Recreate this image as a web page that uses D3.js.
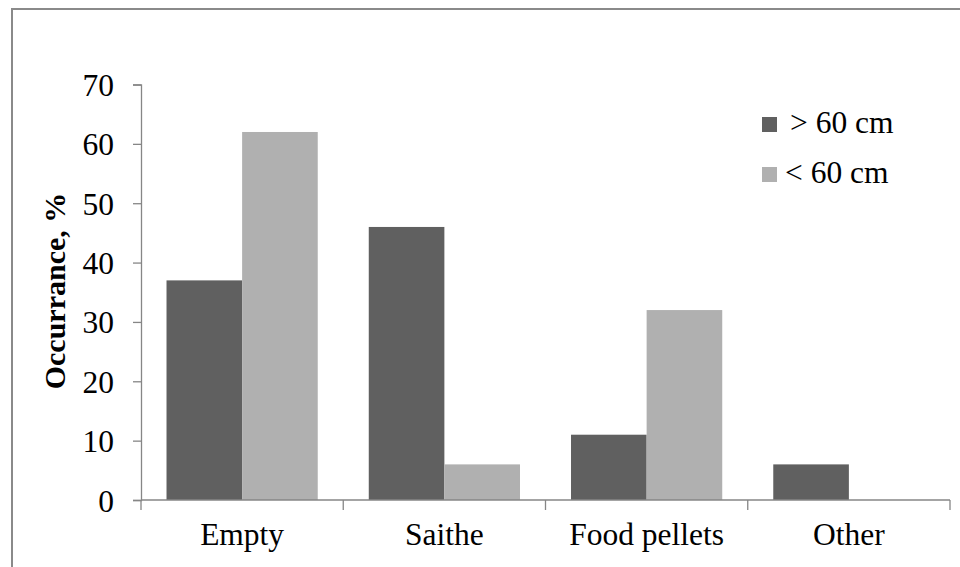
<!DOCTYPE html>
<html><head><meta charset="utf-8">
<script src="https://cdn.jsdelivr.net/npm/d3@7"></script>
<style>
html,body{margin:0;padding:0;background:#fff;}
svg{display:block;}
text{font-family:"Liberation Serif","Times New Roman",serif;fill:#000;}
</style></head>
<body>
<svg id="chart" width="960" height="567"></svg>
<script>
const categories = ["Empty", "Saithe", "Food pellets", "Other"];
const seriesNames = ["> 60 cm", "< 60 cm"];
const over60 = [37, 46, 11, 6];
const under60 = [62, 6, 32, 0];
const yTicks = [0, 10, 20, 30, 40, 50, 60, 70];
const colors = ["#606060", "#b0b0b0"];

const svg = d3.select("#chart");
const plotLeft = 141, plotRight = 950, plotTop = 84.5, plotBottom = 500;
const fs = 31.5;

// outer chart border (extends beyond the visible frame right/bottom)
svg.append("rect").attr("x", 12).attr("y", 9).attr("width", 1000).attr("height", 600)
  .attr("fill", "none").attr("stroke", "#8a8a8a").attr("stroke-width", 2);

const x = d3.scaleBand().domain(categories).range([plotLeft, plotRight]).paddingInner(0).paddingOuter(0);
const xs = d3.scaleBand().domain(seriesNames).range([0, x.bandwidth()]).paddingInner(0).paddingOuter(0.3375);
const y = d3.scaleLinear().domain([0, 70]).range([plotBottom, plotTop]);

const data = categories.map((c, i) => ({cat: c, vals: [over60[i], under60[i]]}));

// bars
const g = svg.append("g");
data.forEach(d => {
  seriesNames.forEach((s, j) => {
    const v = d.vals[j];
    if (v <= 0) return;
    g.append("rect")
      .attr("x", x(d.cat) + xs(s))
      .attr("y", y(v))
      .attr("width", xs.bandwidth())
      .attr("height", y(0) - y(v))
      .attr("fill", colors[j]);
  });
});

// y axis
const yAxis = d3.axisLeft(y).tickValues(yTicks).tickSize(8).tickPadding(19).tickFormat(d3.format("d"));
const ya = svg.append("g").attr("transform", `translate(${plotLeft},0)`).call(yAxis);
ya.select(".domain").attr("stroke", "#868686").attr("stroke-width", 1.3);
ya.selectAll(".tick line").attr("stroke", "#868686").attr("stroke-width", 1.3);
ya.selectAll(".tick text").attr("font-size", fs).attr("font-family", "Liberation Serif").attr("dy", "0.35em");

// x axis
const boundaries = categories.map(c => x(c)).concat([plotRight]);
const xa = svg.append("g");
xa.append("line").attr("x1", plotLeft).attr("x2", plotRight).attr("y1", plotBottom).attr("y2", plotBottom)
  .attr("stroke", "#868686").attr("stroke-width", 1.3);
boundaries.forEach(b => {
  xa.append("line").attr("x1", b).attr("x2", b).attr("y1", plotBottom).attr("y2", plotBottom + 10)
    .attr("stroke", "#868686").attr("stroke-width", 1.3);
});
categories.forEach(c => {
  xa.append("text").attr("x", x(c) + x.bandwidth() / 2).attr("y", 545)
    .attr("text-anchor", "middle").attr("font-size", fs).text(c);
});

// y title
svg.append("text").attr("transform", `translate(65,291) rotate(-90)`)
  .attr("text-anchor", "middle").attr("font-size", 30).attr("font-weight", "bold")
  .text("Occurrance, %");

// legend
const legend = svg.append("g");
const legY = [125, 175];
const legTextX = [790, 785];
seriesNames.forEach((s, j) => {
  legend.append("rect").attr("x", 762).attr("y", legY[j] - 8).attr("width", 15).attr("height", 15)
    .attr("fill", colors[j]);
  legend.append("text").attr("x", legTextX[j]).attr("y", legY[j] + 8).attr("font-size", fs).text(s);
});
</script>
</body></html>
